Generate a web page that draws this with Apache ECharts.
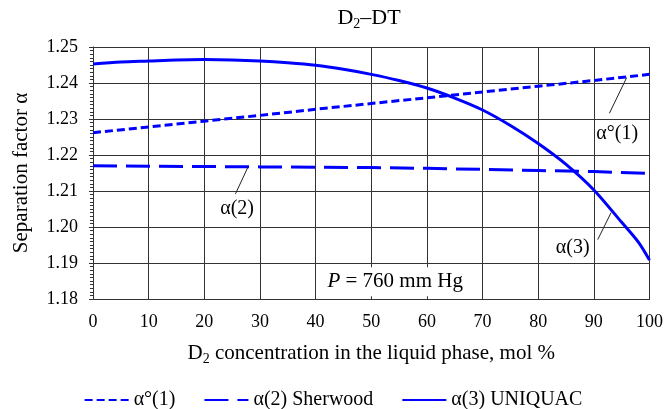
<!DOCTYPE html>
<html><head><meta charset="utf-8">
<script src="https://cdn.jsdelivr.net/npm/echarts@6/dist/echarts.min.js"></script>
<style>html,body{margin:0;padding:0;background:#fff}#c{width:666px;height:409px}</style>
</head><body><div id="c"></div>
<script>
// ---- data ----
const x1 = [0, 10, 20, 30, 40, 50, 60, 70, 80, 90, 100];
const alpha1 = [1.2262, 1.2278, 1.2294, 1.2310, 1.2327, 1.2343, 1.2359, 1.2375, 1.2391, 1.2407, 1.2424];
const alpha2 = [1.2170, 1.2169, 1.2168, 1.2167, 1.2166, 1.2165, 1.2163, 1.2160, 1.2157, 1.2154, 1.2149];
const x3 = [0, 5, 10, 15, 20, 25, 30, 35, 40, 45, 50, 55, 60, 65, 70, 75, 80, 85, 90, 95, 98, 100];
const alpha3 = [1.2453, 1.2458, 1.2461, 1.2464, 1.2465, 1.2464, 1.2461, 1.2456, 1.2449, 1.2438, 1.2424, 1.2407, 1.2386, 1.2358, 1.2325, 1.2282, 1.2232, 1.2174, 1.2103, 1.2013, 1.1958, 1.1908];
const seriesNames = ['α°(1)', 'α(2) Sherwood', 'α(3) UNIQUAC'];
const yTicks = { min: 1.18, max: 1.25, step: 0.01 };
const xTicks = { min: 0, max: 100, step: 10 };

const FF = '"Liberation Serif", "Times New Roman", serif';
const BLUE = '#0000ff';
const GRID = '#333333';

const pairs = (xs, ys) => xs.map((x, i) => [x, ys[i]]);

const chart = echarts.init(document.getElementById('c'), null, { renderer: 'canvas' });
const option = {
  animation: false,
  backgroundColor: '#fff',
  textStyle: { fontFamily: FF, color: '#000' },
  grid: { left: 93, right: 15, top: 47, bottom: 110 },
  legend: {
    top: 385, left: 'center',
    itemWidth: 44, itemHeight: 14, itemGap: 28,
    itemStyle: { opacity: 0, borderWidth: 0 },
    textStyle: { fontFamily: FF, fontSize: 20, color: '#000' },
    data: seriesNames
  },
  xAxis: {
    type: 'value', min: xTicks.min, max: xTicks.max, interval: xTicks.step,
    name: '{n|D}{s|2}{n| concentration in the liquid phase, mol %}',
    nameLocation: 'middle', nameGap: 42,
    nameTextStyle: {
      rich: {
        n: { fontFamily: FF, fontSize: 21, color: '#000', lineHeight: 25 },
        s: { fontFamily: FF, fontSize: 14, color: '#000', verticalAlign: 'bottom' }
      }
    },
    axisLine: { show: true, lineStyle: { color: GRID, width: 1 } },
    axisTick: { show: true, inside: true, length: 4, lineStyle: { color: GRID } },
    axisLabel: { fontFamily: FF, fontSize: 18, color: '#000', margin: 14 },
    splitLine: { show: true, lineStyle: { color: GRID, width: 1 } }
  },
  yAxis: {
    type: 'value', min: yTicks.min, max: yTicks.max, interval: yTicks.step,
    name: 'Separation factor α', nameLocation: 'middle', nameGap: 61,
    nameTextStyle: { fontFamily: FF, fontSize: 21, color: '#000' },
    axisLine: { show: true, lineStyle: { color: GRID, width: 1 } },
    axisTick: { show: true, inside: false, length: 4, lineStyle: { color: GRID } },
    minorTick: { show: true, splitNumber: 10, length: 3, lineStyle: { color: GRID } },
    axisLabel: { fontFamily: FF, fontSize: 18, color: '#000', margin: 15, formatter: v => v.toFixed(2) },
    splitLine: { show: true, lineStyle: { color: GRID, width: 1 } }
  },
  series: [
    { name: seriesNames[0], type: 'line', data: pairs(x1, alpha1), symbol: 'none', showSymbol: false,
      lineStyle: { color: BLUE, width: 3, type: [8, 4] }, itemStyle: { color: BLUE }, z: 3 },
    { name: seriesNames[1], type: 'line', data: pairs(x1, alpha2), symbol: 'none', showSymbol: false,
      lineStyle: { color: BLUE, width: 3, type: [24, 9] }, itemStyle: { color: BLUE }, z: 3 },
    { name: seriesNames[2], type: 'line', data: pairs(x3, alpha3), symbol: 'none', showSymbol: false,
      smooth: 0.3, lineStyle: { color: BLUE, width: 3, type: 'solid' }, itemStyle: { color: BLUE }, z: 4 }
  ]
};
chart.setOption(option);

// annotations placed in data space
const P = (x, y) => chart.convertToPixel({ gridIndex: 0 }, [x, y]);
const leader = (a, b) => {
  const p1 = P(a[0], a[1]), p2 = P(b[0], b[1]);
  return { type: 'line', z: 50, shape: { x1: p1[0], y1: p1[1], x2: p2[0], y2: p2[1] }, style: { stroke: '#222', lineWidth: 1 } };
};
const label = (txt, at) => {
  const p = P(at[0], at[1]);
  return { type: 'text', z: 50, x: p[0], y: p[1],
    style: { text: txt, font: '20px ' + FF, fill: '#000', align: 'center', verticalAlign: 'middle' } };
};
const pBox = P(54.3, 1.1848);
chart.setOption({
  graphic: [
    { type: 'text', z: 50, x: 369, y: 18,
      style: { text: '{a|D}{s|2}{a|–DT}', align: 'center', verticalAlign: 'middle',
        rich: { a: { fontFamily: FF, fontSize: 22, fill: '#000', lineHeight: 26 },
                s: { fontFamily: FF, fontSize: 14, fill: '#000', verticalAlign: 'bottom' } } } },
    leader([95.9, 1.2415], [92.8, 1.2316]),
    label('α°(1)', [94.2, 1.2258]),
    leader([27.8, 1.2165], [25.6, 1.2092]),
    label('α(2)', [25.9, 1.2050]),
    leader([93.1, 1.2040], [90.7, 1.1965]),
    label('α(3)', [86.2, 1.1943]),
    { type: 'text', z: 40, x: pBox[0], y: pBox[1],
      style: { text: '{i|P}{n| = 760 mm Hg}', align: 'center', verticalAlign: 'middle',
        backgroundColor: '#fff', padding: [4, 4, 4, 4],
        rich: { i: { fontFamily: FF, fontSize: 21, fontStyle: 'italic', fill: '#000' },
                n: { fontFamily: FF, fontSize: 21, fill: '#000' } } } }
  ]
});
</script></body></html>
